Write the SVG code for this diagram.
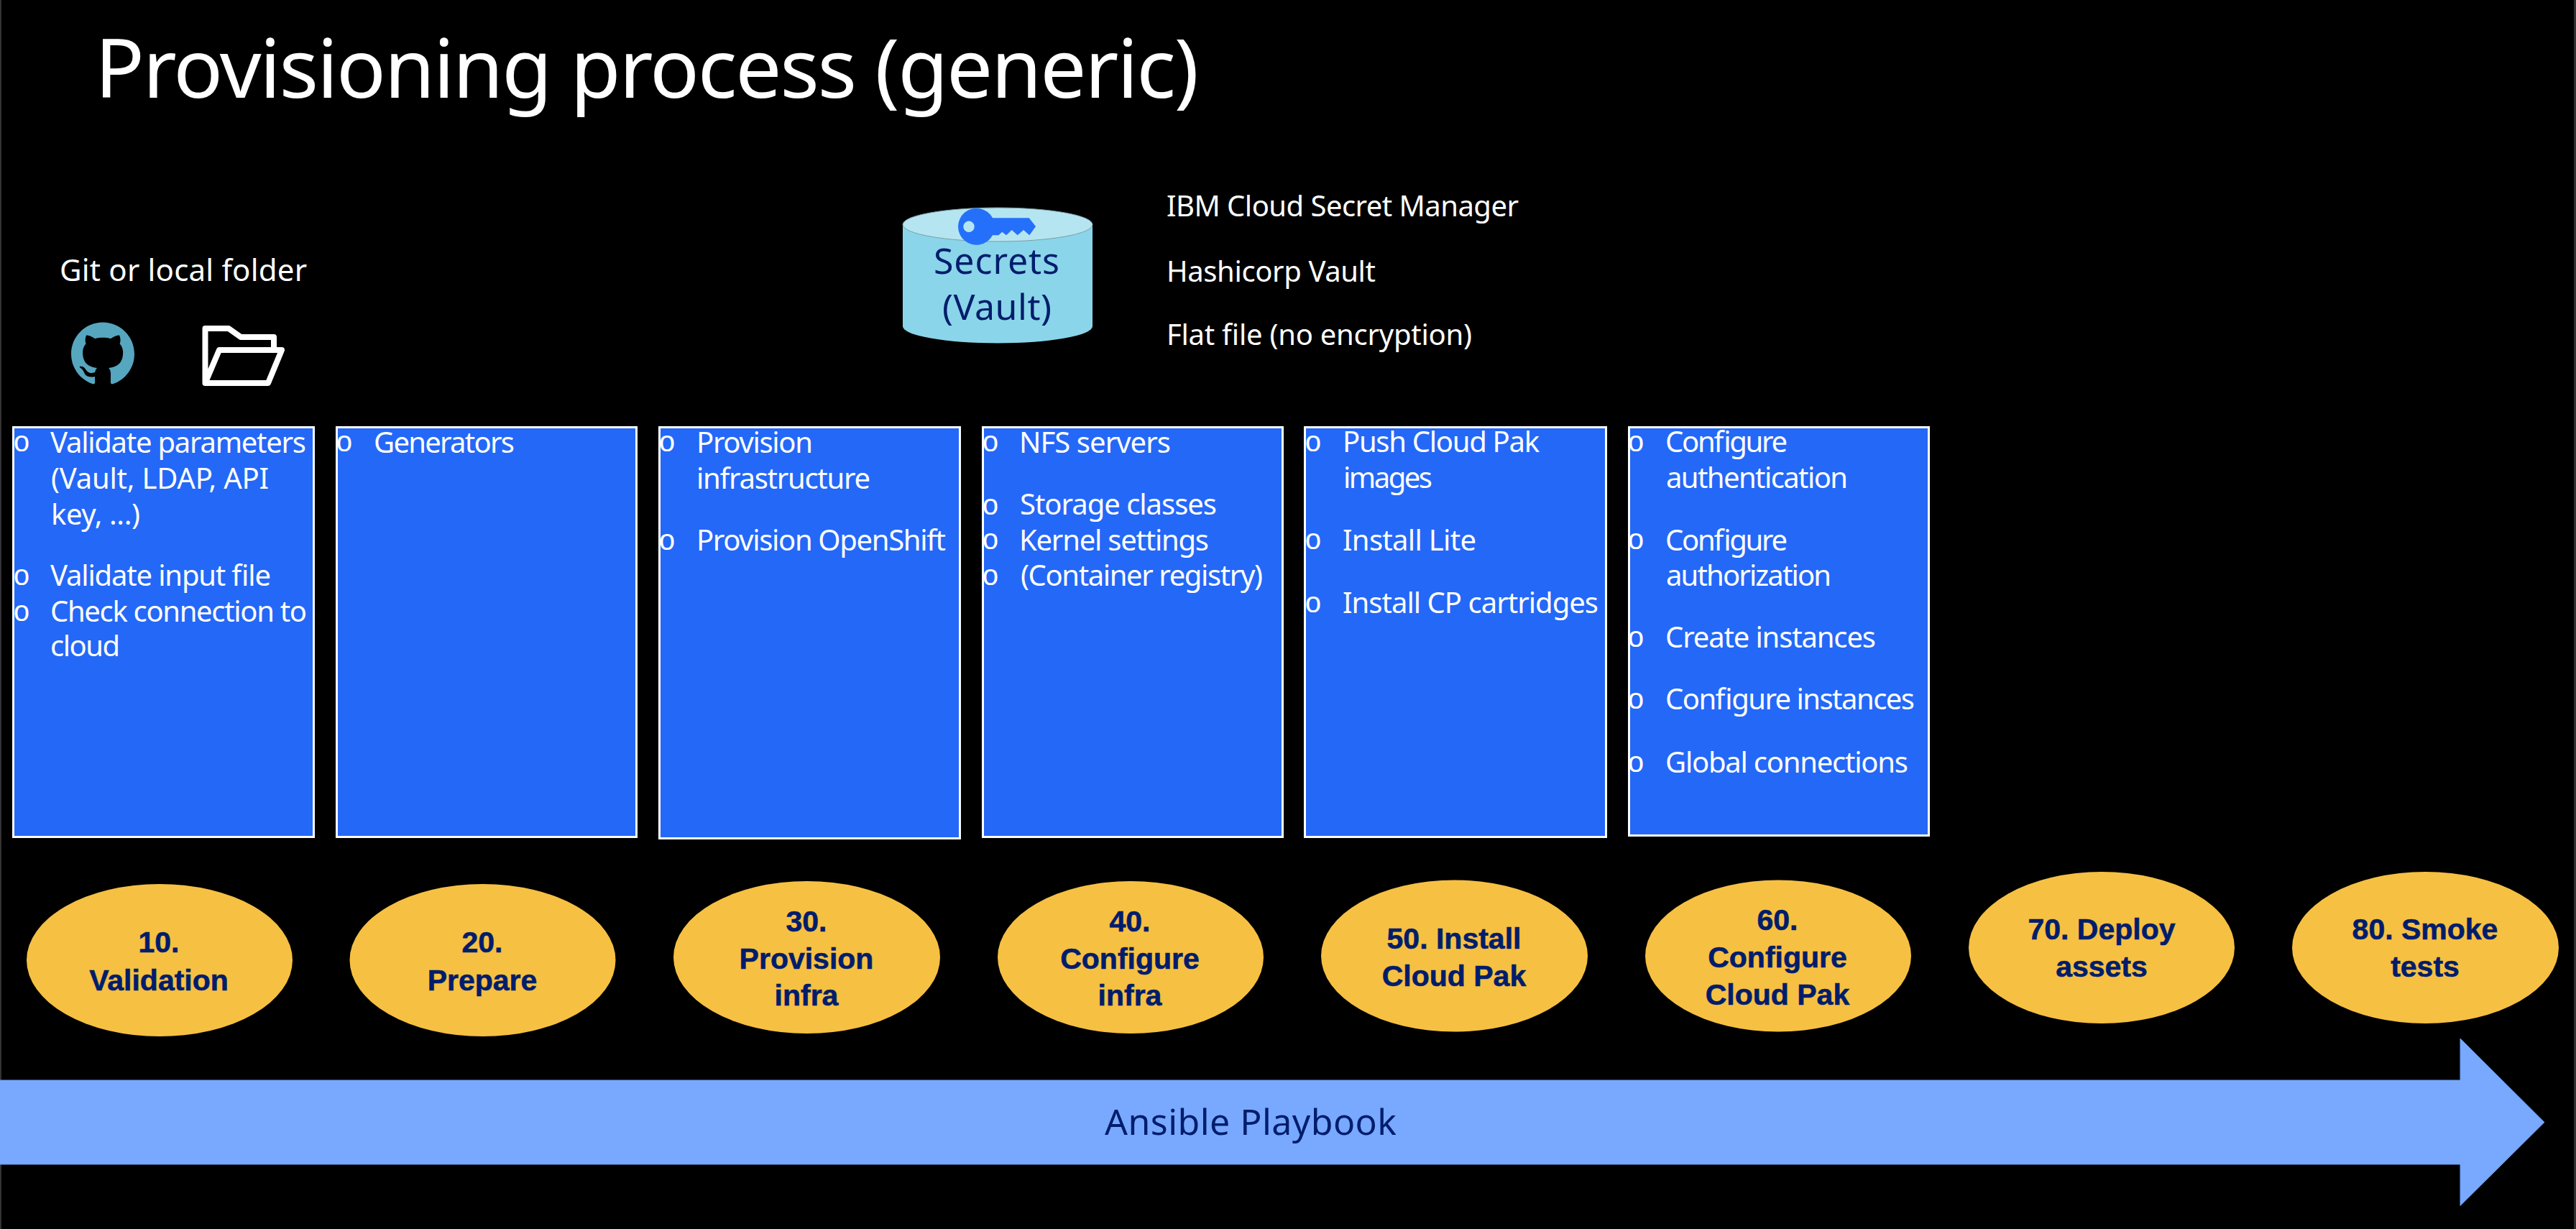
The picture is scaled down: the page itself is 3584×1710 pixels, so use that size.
<svg xmlns="http://www.w3.org/2000/svg" width="3584" height="1710" viewBox="0 0 3584 1710">
<style>
text{font-family:"Noto Sans","Open Sans",sans-serif;fill:#fff;font-size:40px}
.title{font-size:114px}
.dark{fill:#001d6c}
.big{font-size:50px}
.b{font-family:"Liberation Mono",monospace;font-size:40px;text-anchor:middle}
.box{fill:#2468f7;stroke:#fff;stroke-width:3}
.step{fill:#f6c042}
.st{font-family:"Liberation Sans",Arial,sans-serif;font-weight:700;font-size:41px;fill:#001d6c;stroke:#001d6c;stroke-width:.6;text-anchor:middle}
</style>
<rect width="3584" height="1710" fill="#000"/>
<rect width="2" height="1710" fill="#333"/>
<rect x="3581" width="3" height="1710" fill="#333"/>
<text id="title" class="title" x="132" y="136" textLength="1536">Provisioning process (generic)</text>

<g id="git-source">
<text x="83" y="391" textLength="344" style="font-size:42px">Git or local folder</text>
<path transform="translate(99 448.5) scale(5.5)" fill="#57a6bf" d="M8 0C3.58 0 0 3.58 0 8c0 3.54 2.29 6.53 5.47 7.59.4.07.55-.17.55-.38 0-.19-.01-.82-.01-1.49-2.01.37-2.53-.49-2.69-.94-.09-.23-.48-.94-.82-1.13-.28-.15-.68-.52-.01-.53.63-.01 1.08.58 1.23.82.72 1.21 1.87.87 2.33.66.07-.52.28-.87.51-1.07-1.78-.2-3.64-.89-3.64-3.95 0-.87.31-1.59.82-2.15-.08-.2-.36-1.02.08-2.12 0 0 .67-.21 2.2.82.64-.18 1.32-.27 2-.27.68 0 1.36.09 2 .27 1.53-1.04 2.2-.82 2.2-.82.44 1.1.16 1.92.08 2.12.51.56.82 1.28.82 2.15 0 3.07-1.87 3.75-3.65 3.95.29.25.54.73.54 1.48 0 1.07-.01 1.93-.01 2.2 0 .21.15.46.55.38A8.013 8.013 0 0016 8c0-4.42-3.58-8-8-8z"/>
<path fill="none" stroke="#fff" stroke-width="8" stroke-linejoin="round" stroke-linecap="round" d="M285.5 533V457H318L335 469H381V483M285.5 533L305 487H392L373 533Z"/>
</g>

<g id="secrets">
<path fill="#8ad5e9" d="M1256 312.5V454a132 23.5 0 0 0 264 0V312.5Z"/>
<ellipse cx="1388" cy="312.5" rx="132" ry="23.5" fill="#b5e5f0" stroke="#7e9fa9" stroke-width="1"/>
<path fill="#2570fa" fill-rule="evenodd" d="M1381 303.3H1431.7L1441 315L1432.3 327.3L1424 320L1415.7 327.3L1407.7 320L1400 327.3L1394.3 322.7L1389.3 327.3H1381A25.5 25.5 0 1 1 1381 303.3ZM1348 307.6a7.7 7.7 0 1 0 .01 0Z"/>
<text class="dark big" x="1299" y="381" textLength="175">Secrets</text>
<text class="dark big" x="1311" y="445" textLength="152">(Vault)</text>
<text x="1623" y="301" textLength="490">IBM Cloud Secret Manager</text>
<text x="1623" y="392" textLength="291">Hashicorp Vault</text>
<text x="1623" y="480" textLength="425">Flat file (no encryption)</text>
</g>

<g id="box-10">
<rect class="box" x="18.5" y="594.5" width="418" height="570"/>
<text class="b" x="30" y="628">o</text><text x="70" y="629.5" textLength="356">Validate parameters</text>
<text x="71" y="679.5" textLength="303">(Vault, LDAP, API</text>
<text x="71" y="730" textLength="124">key, ...)</text>
<text class="b" x="30" y="814">o</text><text x="70" y="815" textLength="307">Validate input file</text>
<text class="b" x="30" y="864">o</text><text x="70" y="865" textLength="357">Check connection to</text>
<text x="70" y="913" textLength="97">cloud</text>
</g>
<g id="box-20">
<rect class="box" x="468.5" y="594.5" width="417" height="570"/>
<text class="b" x="479" y="628">o</text><text x="520" y="629.5" textLength="196">Generators</text>
</g>
<g id="box-30">
<rect class="box" x="917.5" y="594.5" width="418" height="572"/>
<text class="b" x="928" y="628">o</text><text x="969" y="629.5" textLength="162">Provision</text>
<text x="969" y="679.5" textLength="242">infrastructure</text>
<text class="b" x="928" y="765">o</text><text x="969" y="765.5" textLength="347">Provision OpenShift</text>
</g>
<g id="box-40">
<rect class="box" x="1367.5" y="594.5" width="417" height="570"/>
<text class="b" x="1378" y="628">o</text><text x="1418" y="630" textLength="211">NFS servers</text>
<text class="b" x="1378" y="716">o</text><text x="1419" y="716" textLength="274">Storage classes</text>
<text class="b" x="1378" y="764">o</text><text x="1418" y="765.5" textLength="264">Kernel settings</text>
<text class="b" x="1378" y="814">o</text><text x="1420" y="815" textLength="337">(Container registry)</text>
</g>
<g id="box-50">
<rect class="box" x="1815.5" y="594.5" width="419" height="570"/>
<text class="b" x="1827" y="628">o</text><text x="1868" y="629" textLength="274">Push Cloud Pak</text>
<text x="1869" y="679" textLength="124">images</text>
<text class="b" x="1827" y="764">o</text><text x="1868" y="766" textLength="186">Install Lite</text>
<text class="b" x="1827" y="852">o</text><text x="1868" y="853" textLength="356">Install CP cartridges</text>
</g>
<g id="box-60">
<rect class="box" x="2266.5" y="594.5" width="417" height="568"/>
<text class="b" x="2276" y="628">o</text><text x="2317" y="629" textLength="170">Configure</text>
<text x="2318" y="679" textLength="253">authentication</text>
<text class="b" x="2276" y="764">o</text><text x="2317" y="766" textLength="170">Configure</text>
<text x="2318" y="815" textLength="230">authorization</text>
<text class="b" x="2276" y="900">o</text><text x="2317" y="901" textLength="293">Create instances</text>
<text class="b" x="2276" y="986">o</text><text x="2317" y="987" textLength="347">Configure instances</text>
<text class="b" x="2276" y="1074">o</text><text x="2317" y="1075" textLength="338">Global connections</text>
</g>

<g id="step-10"><ellipse class="step" cx="222" cy="1336" rx="185" ry="106"/>
<text class="st" x="221" y="1325">10.</text><text class="st" x="221" y="1378">Validation</text></g>
<g id="step-20"><ellipse class="step" cx="671.5" cy="1336" rx="185" ry="106"/>
<text class="st" x="671" y="1325">20.</text><text class="st" x="671" y="1378">Prepare</text></g>
<g id="step-30"><ellipse class="step" cx="1122.5" cy="1332" rx="185.5" ry="106"/>
<text class="st" x="1122" y="1296">30.</text><text class="st" x="1122" y="1348">Provision</text><text class="st" x="1122" y="1399">infra</text></g>
<g id="step-40"><ellipse class="step" cx="1573" cy="1332" rx="185" ry="106"/>
<text class="st" x="1572" y="1296">40.</text><text class="st" x="1572" y="1348">Configure</text><text class="st" x="1572" y="1399">infra</text></g>
<g id="step-50"><ellipse class="step" cx="2023.5" cy="1330" rx="185.5" ry="105.5"/>
<text class="st" x="2023" y="1320">50. Install</text><text class="st" x="2023" y="1372">Cloud Pak</text></g>
<g id="step-60"><ellipse class="step" cx="2474" cy="1330" rx="185" ry="105.5"/>
<text class="st" x="2473" y="1294">60.</text><text class="st" x="2473" y="1346">Configure</text><text class="st" x="2473" y="1398">Cloud Pak</text></g>
<g id="step-70"><ellipse class="step" cx="2924" cy="1318.5" rx="185" ry="105.5"/>
<text class="st" x="2924" y="1307">70. Deploy</text><text class="st" x="2924" y="1359">assets</text></g>
<g id="step-80"><ellipse class="step" cx="3374.5" cy="1318.5" rx="185.5" ry="105.5"/>
<text class="st" x="3374" y="1307">80. Smoke</text><text class="st" x="3374" y="1359">tests</text></g>

<g id="connectors">
<path fill="#78a9ff" stroke="#6a99ea" stroke-width="1" d="M-2 1503H3423V1445L3540 1561.5L3423 1677.5V1620H-2Z"/>
<text class="dark big" x="1537" y="1579" textLength="406">Ansible Playbook</text>
</g>
</svg>
